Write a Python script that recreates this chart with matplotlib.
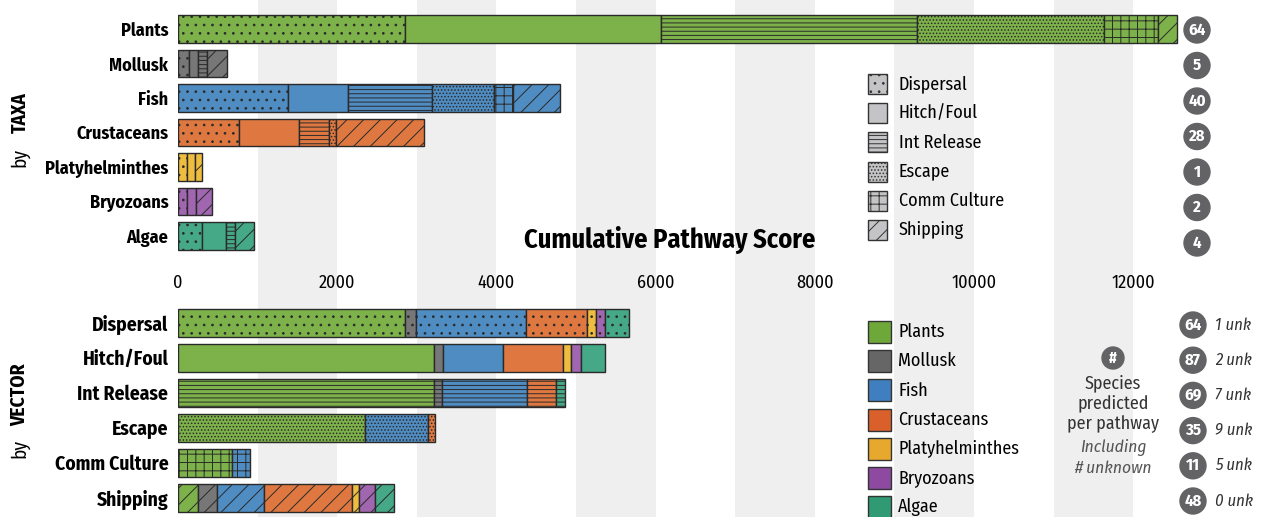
import matplotlib
matplotlib.use('Agg')
import matplotlib.pyplot as plt
from matplotlib.patches import Rectangle, Circle
import numpy as np

plt.rcParams['font.family'] = ['Fira Sans Condensed', 'DejaVu Sans']
plt.rcParams['hatch.linewidth'] = 0.7

# data
taxa = ['Plants', 'Mollusk', 'Fish', 'Crustaceans', 'Platyhelminthes', 'Bryozoans', 'Algae']
vectors = ['Dispersal', 'Hitch/Foul', 'Int Release', 'Escape', 'Comm Culture', 'Shipping']

# score per taxon (rows) and vector (columns)
plants = [2850, 3220, 3210, 2350, 680, 245]
mollusk = [140, 115, 110, 0, 0, 250]
fish = [1380, 750, 1060, 786, 230, 588]
crustaceans = [770, 750, 375, 90, 0, 1100]
platyhelminthes = [110, 106, 0, 0, 0, 90]
bryozoans = [110, 117, 0, 0, 0, 196]
algae = [305, 301, 110, 0, 0, 245]

taxa_species = [64, 5, 40, 28, 1, 2, 4]
vector_species = [64, 87, 69, 35, 11, 48]
vector_unknown = [1, 2, 7, 9, 5, 0]

taxa_colors = ['#7db24a', '#777777', '#4f8cc2', '#df7840', '#eebc3e', '#a066b0', '#45a886']
legend_colors = ['#6fa83a', '#666666', '#3f7fbf', '#d9602a', '#e6a92e', '#8e4aa0', '#2f9a74']
hatches = ['..', '', '----', '.....', '++', '//']

scores = np.array([plants, mollusk, fish, crustaceans, platyhelminthes, bryozoans, algae])

W, H = 1261, 517
fig = plt.figure(figsize=(W / 100, H / 100), dpi=100)

xmax = 12600
left = 178 / W
width = xmax * 0.0796 / W

def fy(py):
    return 1 - py / H

# background bands
bg = fig.add_axes([left, 0, width, 1], zorder=0)
bg.set_xlim(0, xmax)
bg.set_ylim(0, 1)
for x0 in range(1000, 12000, 2000):
    bg.axvspan(x0, x0 + 1000, color='#efefef', lw=0)
bg.axis('off')

edge = '#2a2a2a'

# top: by taxa
ax1 = fig.add_axes([left, fy(253), width, 241 / H], zorder=2)
ax1.patch.set_alpha(0)
for i, t in enumerate(taxa):
    lefts = 0
    for j, v in enumerate(vectors):
        val = scores[i, j]
        if val > 0:
            ax1.barh(i, val, left=lefts, height=0.8, color=taxa_colors[i],
                     edgecolor=edge, hatch=hatches[j], linewidth=1.0)
        lefts += val
ax1.set_xlim(0, xmax)
ax1.set_ylim(6.5, -0.5)
ax1.set_yticks(range(len(taxa)))
ax1.set_yticklabels(taxa, fontsize=14, fontweight='bold')
ax1.set_xticks(range(0, 12001, 2000))
ax1.tick_params(length=0, labelsize=13)
ax1.tick_params(axis='x', pad=15)
ax1.tick_params(axis='y', pad=7)
for s in ax1.spines.values():
    s.set_visible(False)

# bottom: by vector
ax2 = fig.add_axes([left, fy(515), width, 210 / H], zorder=2)
ax2.patch.set_alpha(0)
for j, v in enumerate(vectors):
    lefts = 0
    for i, t in enumerate(taxa):
        val = scores[i, j]
        if val > 0:
            ax2.barh(j, val, left=lefts, height=0.8, color=taxa_colors[i],
                     edgecolor=edge, hatch=hatches[j], linewidth=1.0)
        lefts += val
ax2.set_xlim(0, xmax)
ax2.set_ylim(5.5, -0.5)
ax2.set_yticks(range(len(vectors)))
ax2.set_yticklabels(vectors, fontsize=14, fontweight='bold')
ax2.set_xticks([])
ax2.tick_params(length=0, pad=7)
for s in ax2.spines.values():
    s.set_visible(False)

# axis title
fig.text(670 / W, fy(240), 'Cumulative Pathway Score', fontsize=19, fontweight='bold',
         ha='center', va='center')

# side labels
fig.text(20 / W, fy(158), 'by', rotation=90, fontsize=14, ha='center', va='center')
fig.text(20 / W, fy(113), 'TAXA', rotation=90, fontsize=14, fontweight='bold', ha='center', va='center')
fig.text(20 / W, fy(448), 'by', rotation=90, fontsize=14, ha='center', va='center')
fig.text(20 / W, fy(395), 'VECTOR', rotation=90, fontsize=14, fontweight='bold', ha='center', va='center')

# overlay axes in pixel coords for legends and circles
ov = fig.add_axes([0, 0, 1, 1], zorder=3)
ov.set_xlim(0, W)
ov.set_ylim(H, 0)
ov.axis('off')
ov.patch.set_alpha(0)

# pattern legend
for k, v in enumerate(vectors):
    yc = 84 + k * 29.2
    ov.add_patch(Rectangle((868, yc - 10), 19, 20, facecolor='#c4c4c6', edgecolor='#333333',
                           hatch=hatches[k], lw=1.0))
    ov.text(899, yc, v, fontsize=13, va='center', ha='left')

# color legend
for k, t in enumerate(taxa):
    yc = 332 + k * 29.2
    ov.add_patch(Rectangle((868, yc - 11), 23, 22, facecolor=legend_colors[k], edgecolor='#333333', lw=1.0))
    ov.text(898, yc, t, fontsize=13, va='center', ha='left')

circ = '#636366'
# top circles
for k, n in enumerate(taxa_species):
    yc = 30 + k * 35.5
    ov.add_patch(Circle((1197, yc), 13, color=circ))
    ov.text(1197, yc, str(n), color='white', fontsize=12, fontweight='bold', ha='center', va='center')

# bottom circles
for k, n in enumerate(vector_species):
    yc = 325 + k * 35.2
    ov.add_patch(Circle((1193, yc), 13, color=circ))
    ov.text(1193, yc, str(n), color='white', fontsize=12, fontweight='bold', ha='center', va='center')
    ov.text(1215, yc, '%d unk' % vector_unknown[k], fontsize=12, style='italic',
            ha='left', va='center', color='#333333')

# key
ov.add_patch(Circle((1113, 358), 11, color=circ))
ov.text(1113, 358, '#', color='white', fontsize=11, fontweight='bold', ha='center', va='center')
for txt, yy in [('Species', 383), ('predicted', 403), ('per pathway', 424)]:
    ov.text(1113, yy, txt, fontsize=13, ha='center', va='center', color='#333333')
for txt, yy in [('Including', 448), ('# unknown', 468)]:
    ov.text(1113, yy, txt, fontsize=12.5, style='italic', ha='center', va='center', color='#555555')

fig.savefig('out.png', dpi=100)
